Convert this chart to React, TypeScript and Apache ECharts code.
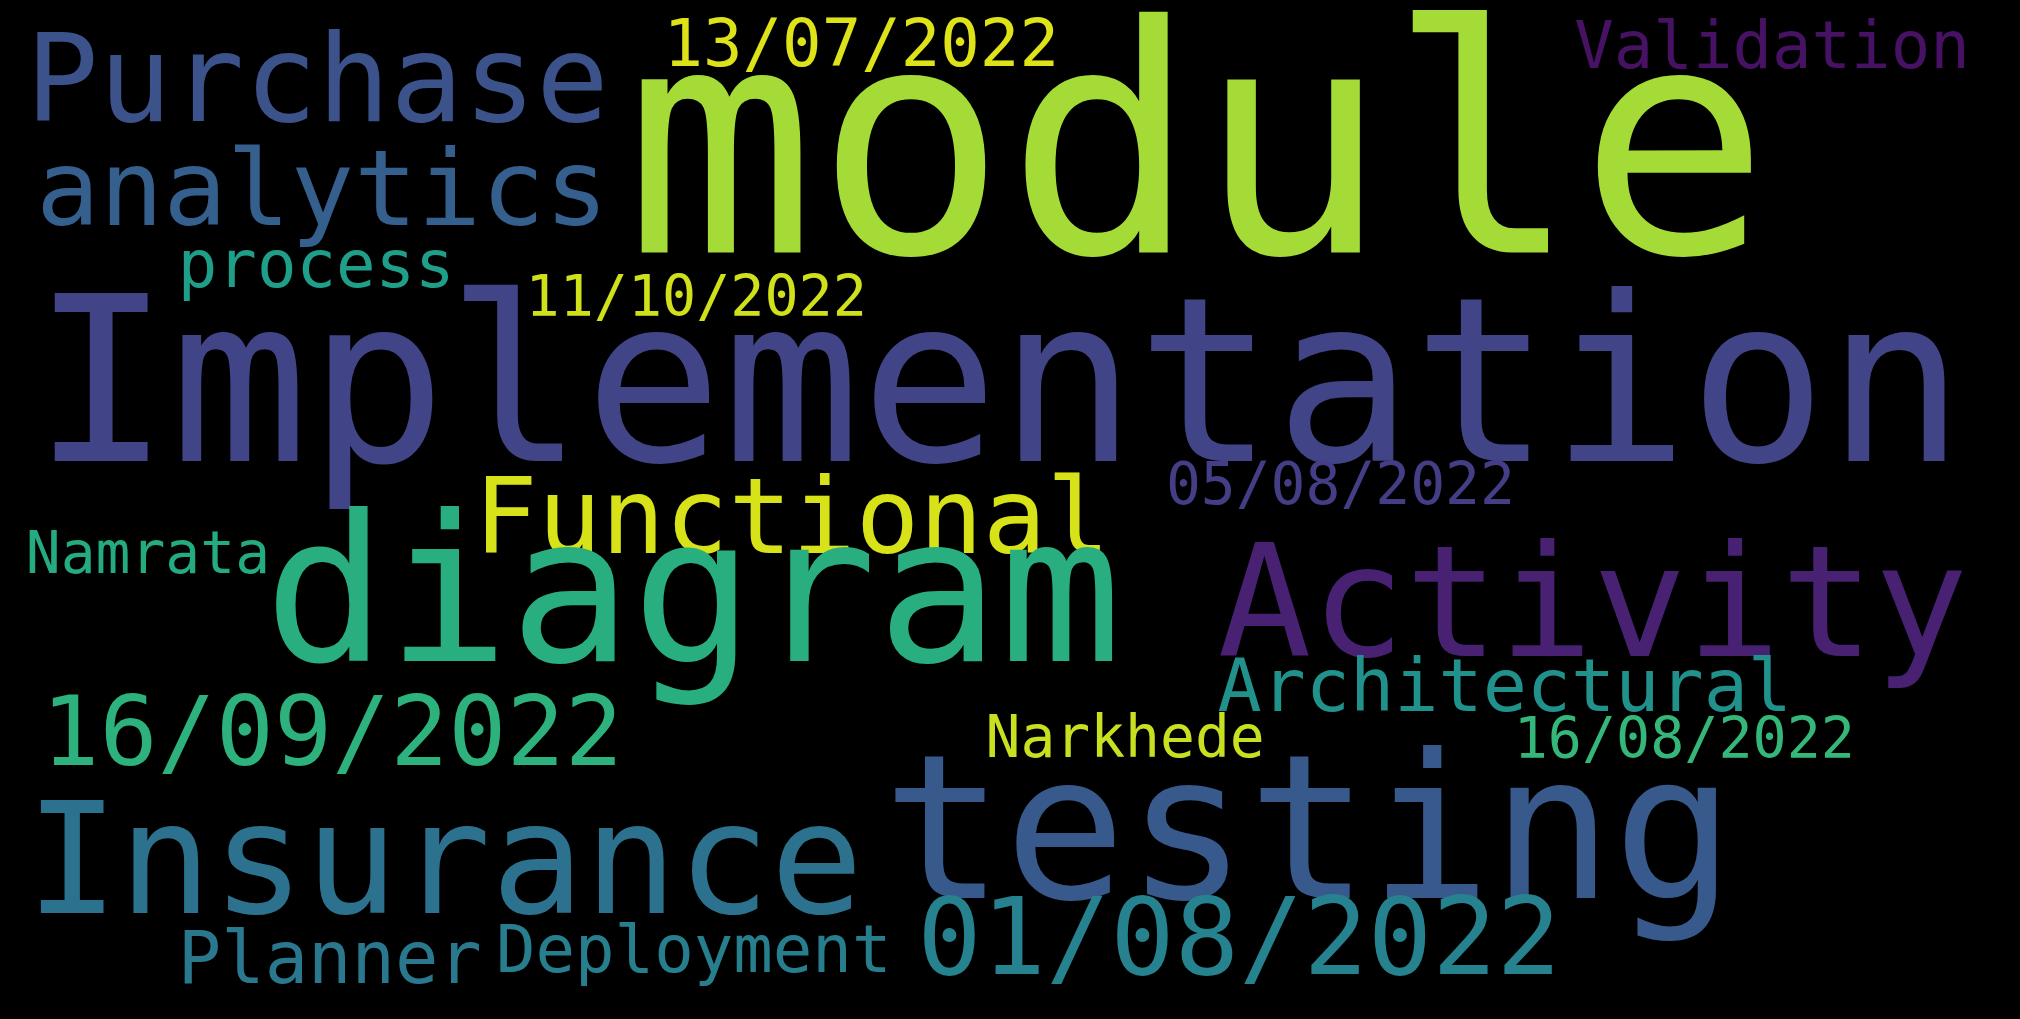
import { useEffect, useRef } from "react";
import * as echarts from "echarts";

// word cloud laid out on a 1568 x 791 reference grid
const words = ["module", "Implementation", "Purchase", "analytics", "13/07/2022", "Validation", "process", "11/10/2022", "05/08/2022", "Functional", "Namrata", "diagram", "Activity", "Architectural", "16/09/2022", "Narkhede", "16/08/2022", "testing", "Insurance", "01/08/2022", "Planner", "Deployment"];
const xs = [485, 25, 20, 28, 515, 1222, 138, 408, 905, 368, 20, 205, 945, 945, 32, 765, 1175, 685, 20, 712, 138, 385];
const ys = [111, 296, 62, 146, 33, 35, 205, 230, 376, 401, 429, 458, 467, 532, 568, 572, 573, 643, 667, 727, 744, 737];
const sizes = [246, 178, 94, 82, 51, 51, 51, 44, 45, 82, 45, 158, 121, 57, 75, 45, 44, 157, 120, 83, 56, 51];
const colors = ["#a5db36", "#414487", "#3b528b", "#355f8d", "#dde318", "#471164", "#1f9e89", "#d0e11c", "#433e85", "#d8e219", "#25ab82", "#29af7f", "#482173", "#21918c", "#2db27d", "#c8e020", "#35b779", "#38598c", "#2c728e", "#26828e", "#2a788e", "#277f8e"];

const SCALE = 2020 / 1568;

function App() {
  const ref = useRef<HTMLDivElement | null>(null);

  useEffect(() => {
    document.body.style.margin = "0";
    if (!ref.current) return;
    const chart = echarts.init(ref.current, null, { renderer: "svg" });
    chart.setOption({
      animation: false,
      backgroundColor: "#000",
      grid: { left: 0, right: 0, top: 0, bottom: 0 },
      xAxis: { type: "value", min: 0, max: 1568, show: false },
      yAxis: { type: "value", min: 0, max: 791, inverse: true, show: false },
      series: [
        {
          type: "scatter",
          symbolSize: 0,
          itemStyle: { opacity: 1 },
          data: words.map((w, i) => ({
            value: [xs[i], ys[i]],
            name: w,
            label: {
              show: true,
              formatter: w,
              position: "right",
              distance: 0,
              fontFamily: "DejaVu Sans Mono",
              fontSize: sizes[i] * SCALE,
              color: colors[i],
            },
          })),
        },
      ],
    });
    return () => chart.dispose();
  }, []);

  return <div ref={ref} style={{ width: "2020px", height: "1019px" }} />;
}

export default App;
